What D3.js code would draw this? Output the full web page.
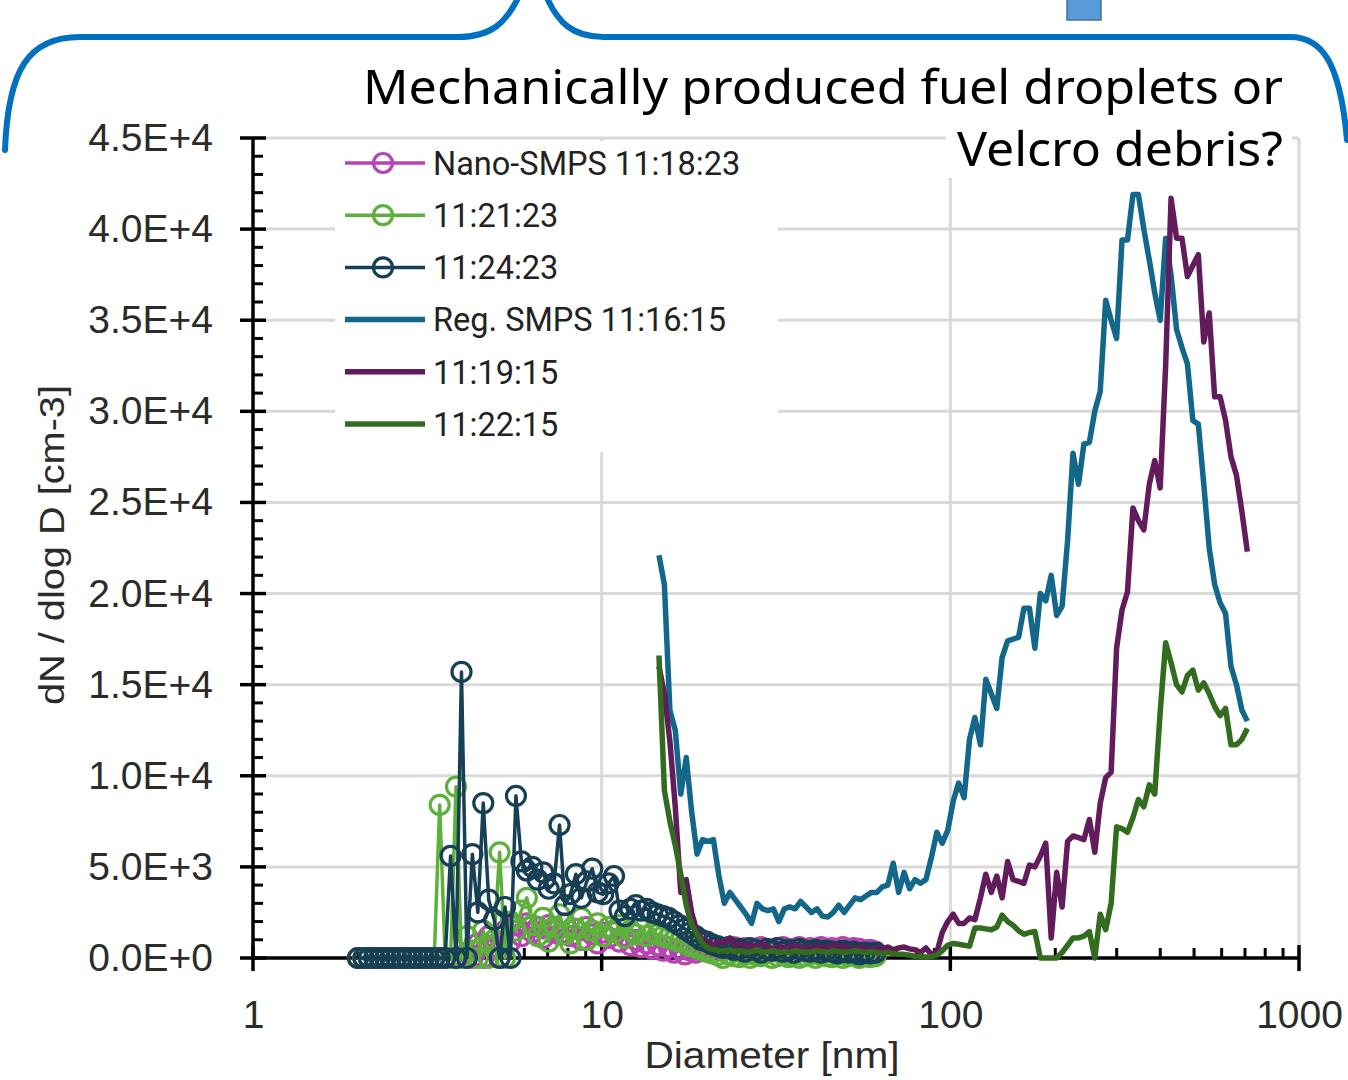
<!DOCTYPE html>
<html>
<head>
<meta charset="utf-8">
<script src="https://cdn.jsdelivr.net/npm/d3@7"></script>
<style>
  body { margin: 0; background: #fff; }
  svg { display: block; }
</style>
</head>
<body>
<svg id="chart" width="1348" height="1080"></svg>
<script>
// ---- data ----
// Nano-SMPS channel diameters (nm)
var nanoDiam = [
  2.000,2.073,2.149,2.228,2.310,2.394,2.482,2.573,2.667,2.765,
  2.866,2.971,3.080,3.193,3.310,3.431,3.557,3.687,3.822,3.962,
  4.107,4.258,4.414,4.575,4.743,4.916,5.097,5.283,5.477,5.677,
  5.885,6.101,6.325,6.556,6.796,7.045,7.303,7.571,7.848,8.136,
  8.434,8.743,9.063,9.395,9.739,10.10,10.47,10.85,11.25,11.66,
  12.09,12.53,12.99,13.46,13.96,14.47,15.00,15.55,16.12,16.71,
  17.32,17.95,18.61,19.29,20.00,20.73,21.49,22.28,23.10,23.94,
  24.82,25.73,26.67,27.65,28.66,29.71,30.80,31.93,33.10,34.31,
  35.57,36.87,38.22,39.62,41.07,42.58,44.14,45.75,47.43,49.16,
  50.97,52.83,54.77,56.77,58.85,61.01
];
var nano111823 = [
  0,0,0,0,0,0,0,0,0,0,
  0,0,0,0,0,0,0,0,0,0,
  300,0,800,0,1200,600,0,1500,900,1800,
  1200,1900,1400,1700,1100,1800,1500,1300,1900,1200,
  1600,1000,1700,1300,800,1400,1100,1500,900,1200,
  700,1000,600,800,500,700,400,600,300,500,
  200,400,300,450,350,500,550,400,500,600,
  450,550,500,400,600,450,400,550,600,450,
  500,600,400,550,450,600,500,550,400,600,
  450,550,500,400,450,350
];
var nano112123 = [
  0,0,0,0,0,0,0,0,0,0,
  0,0,0,0,0,8400,0,0,9400,0,
  1200,400,0,1500,0,1000,5800,0,2000,1500,
  2600,3300,1800,1200,2200,900,1700,2400,1300,800,
  1600,2200,1000,1500,1900,1200,1700,1400,1800,1100,
  1500,1300,1600,1200,1400,1300,1200,1100,1000,900,
  800,650,550,450,350,250,150,0,200,100,
  50,200,0,150,100,250,0,100,200,50,
  150,0,100,200,0,150,100,50,200,0,
  100,150,0,100,50,100
];
var nano112423 = [
  0,0,0,0,0,0,0,0,0,0,
  0,0,0,0,0,0,0,5600,0,15700,
  0,5700,2500,8500,3200,2100,0,2800,0,8900,
  5300,4800,5000,4300,4700,3800,4100,7300,2900,3500,
  4600,3300,4200,4900,3600,3500,4100,4500,2600,2300,
  2700,2900,2600,2700,2500,2400,2300,2200,2000,1800,
  1600,1400,1200,1000,900,750,650,550,600,450,
  500,350,550,450,300,500,400,550,350,450,
  300,500,400,350,450,300,400,350,250,400,
  300,350,200,300,250,300
];

// Regular SMPS channel diameters (nm)
var regDiam = [
  14.60,15.13,15.69,16.26,16.86,17.48,18.12,18.78,19.47,20.18,
  20.92,21.69,22.48,23.31,24.16,25.05,25.96,26.91,27.90,28.92,
  29.98,31.08,32.22,33.40,34.62,35.89,37.21,38.57,39.98,41.45,
  42.96,44.54,46.17,47.86,49.61,51.43,53.32,55.27,57.29,59.39,
  61.57,63.82,66.16,68.59,71.10,73.70,76.40,79.20,82.10,85.11,
  88.23,91.46,94.81,98.28,101.9,105.6,109.5,113.5,117.6,122.0,
  126.4,131.1,135.9,140.8,146.0,151.3,156.9,162.6,168.6,174.8,
  181.2,187.8,194.7,201.8,209.2,216.9,224.8,233.1,241.6,250.5,
  259.6,269.1,279.0,289.2,299.8,310.8,322.2,334.0,346.2,358.9,
  372.1,385.7,399.8,414.5,429.6,445.4,461.7,478.6,496.1,514.3,
  533.2,552.7,572.9,593.9,615.7,638.2,661.6,685.8,710.9
];
var reg111615 = [
  22100,20500,13600,12500,9000,11000,8000,5700,6500,6400,
  6500,4500,3000,3600,3200,2800,2400,1900,3000,2700,
  2600,2700,2000,2700,2800,2700,3100,2800,2500,2700,
  2300,2250,2500,2900,2500,2900,3300,3200,3400,3600,
  3600,3900,4000,5200,3600,4700,3800,4300,4100,4300,
  5500,6900,6300,7000,8600,9600,8800,12000,13200,11700,
  15300,14500,13700,16500,17400,17500,17600,19200,19200,17000,
  20000,19600,21000,18800,19300,22900,27700,26000,28200,28300,
  30000,31100,36100,35000,34000,39400,39400,41900,41900,40000,
  38300,36500,35000,39500,37500,34500,33500,32600,29500,29300,
  26000,22500,20500,19500,18900,16000,15000,13600,13000
];
var reg111915 = [
  16000,14500,11900,8300,3600,4300,2500,1400,1000,900,
  700,900,850,1100,700,800,650,700,600,750,
  600,500,650,550,600,700,550,600,500,650,
  600,550,700,600,650,500,550,600,500,450,
  550,500,600,450,550,600,500,450,300,550,
  200,300,1400,2000,2400,1900,1900,2200,2100,3300,
  4600,3600,4500,3300,5300,4300,4200,4100,5100,5000,
  5600,6300,1100,4700,2800,6400,6700,6600,6500,7600,
  5800,8500,9900,10200,17000,19100,20100,24700,24000,23500,
  26000,27300,25800,32500,41700,39500,39500,37400,38000,38600,
  33800,35400,30800,30800,29500,27500,26500,24500,22300
];
var reg112215 = [
  16600,9200,7500,6200,4600,2900,1800,1300,800,550,
  450,400,380,450,350,400,300,350,450,300,
  350,400,300,350,300,400,350,300,350,400,
  350,300,400,350,300,350,400,350,300,350,
  300,250,300,250,200,200,150,100,80,50,
  80,150,400,700,800,750,700,650,1650,1650,
  1600,1550,1700,2350,2000,1800,1500,1300,1400,1450,
  0,0,0,0,300,700,1100,1100,1200,1450,
  0,2400,1550,3000,7200,7100,6900,7700,8700,8300,
  9500,9000,13500,17300,16200,15000,14600,15500,15800,14700,
  15100,14500,13800,13300,13700,11700,11700,12000,12600
];

var seriesNames = ["Nano-SMPS 11:18:23", "11:21:23", "11:24:23",
                   "Reg. SMPS 11:16:15", "11:19:15", "11:22:15"];
var yTickValues = [0, 5000, 10000, 15000, 20000, 25000, 30000, 35000, 40000, 45000];
var yTickLabels = ["0.0E+0", "5.0E+3", "1.0E+4", "1.5E+4", "2.0E+4",
                   "2.5E+4", "3.0E+4", "3.5E+4", "4.0E+4", "4.5E+4"];
var xTickValues = [1, 10, 100, 1000];
var xTickLabels = ["1", "10", "100", "1000"];

(function () {
  var svg = d3.select('#chart');
  var plotL = 253, plotR = 1299, plotT = 138, plotB = 958;

  var x = d3.scaleLog().domain([1, 1000]).range([plotL, plotR]);
  var y = d3.scaleLinear().domain([0, 45000]).range([plotB, plotT]);

  var series = [
    {name: seriesNames[0], diam: nanoDiam, vals: nano111823, color: '#B942B5', marker: true},
    {name: seriesNames[1], diam: nanoDiam, vals: nano112123, color: '#5DB13B', marker: true},
    {name: seriesNames[2], diam: nanoDiam, vals: nano112423, color: '#173F56', marker: true},
    {name: seriesNames[3], diam: regDiam, vals: reg111615, color: '#12678A', marker: false},
    {name: seriesNames[4], diam: regDiam, vals: reg111915, color: '#621C5B', marker: false},
    {name: seriesNames[5], diam: regDiam, vals: reg112215, color: '#336C1F', marker: false}
  ];

  //gridlines
  var grid = svg.append('g').attr('stroke', '#d9d9d9').attr('stroke-width', 3);
  grid.selectAll('.hgrid')
    .data(yTickValues.slice(1)).enter()
    .append('line')
    .attr('x1', plotL).attr('x2', plotR)
    .attr('y1', function (d) { return y(d); })
    .attr('y2', function (d) { return y(d); });
  grid.selectAll('.vgrid')
    .data(xTickValues.slice(1)).enter()
    .append('line')
    .attr('x1', function (d) { return x(d); })
    .attr('x2', function (d) { return x(d); })
    .attr('y1', plotT).attr('y2', plotB);

  //y axis labels
  var yAxis = d3.axisLeft(y)
    .tickValues(yTickValues)
    .tickSize(0)
    .tickPadding(40)
    .tickFormat(function (d, i) { return yTickLabels[i]; });
  var gy = svg.append('g').attr('transform', 'translate(' + plotL + ',0)').call(yAxis);
  gy.select('.domain').remove();
  gy.selectAll('text')
    .attr('font-family', 'Liberation Sans, Arial, sans-serif')
    .attr('font-size', 39)
    .attr('fill', '#2b2b2b');

  //x axis labels
  var xAxis = d3.axisBottom(x)
    .tickValues(xTickValues)
    .tickSize(0)
    .tickPadding(42)
    .tickFormat(function (d, i) { return xTickLabels[i]; });
  var gx = svg.append('g').attr('transform', 'translate(0,' + plotB + ')').call(xAxis);
  gx.select('.domain').remove();
  gx.selectAll('text')
    .attr('font-family', 'Liberation Sans, Arial, sans-serif')
    .attr('font-size', 39)
    .attr('fill', '#2b2b2b');

  //axis lines and ticks
  var axes = svg.append('g').attr('stroke', '#000');
  var yMinor = d3.range(0, 45001, 1000).filter(function (v) { return v % 5000 !== 0; });
  axes.selectAll('.yminor').data(yMinor).enter().append('line')
    .attr('x1', plotL).attr('x2', plotL + 10)
    .attr('y1', function (d) { return y(d); }).attr('y2', function (d) { return y(d); })
    .attr('stroke-width', 3);
  axes.selectAll('.ymajor').data(yTickValues).enter().append('line')
    .attr('x1', plotL - 13).attr('x2', plotL + 13)
    .attr('y1', function (d) { return y(d); }).attr('y2', function (d) { return y(d); })
    .attr('stroke-width', 3.5);
  var xMinor = [];
  [1, 10, 100].forEach(function (dec) {
    for (var k = 2; k <= 9; k++) xMinor.push(k * dec);
  });
  axes.selectAll('.xminor').data(xMinor).enter().append('line')
    .attr('x1', function (d) { return x(d); }).attr('x2', function (d) { return x(d); })
    .attr('y1', plotB).attr('y2', plotB - 10)
    .attr('stroke-width', 3);
  axes.selectAll('.xmajor').data(xTickValues).enter().append('line')
    .attr('x1', function (d) { return x(d); }).attr('x2', function (d) { return x(d); })
    .attr('y1', plotB - 13).attr('y2', plotB + 13)
    .attr('stroke-width', 3.5);
  axes.append('line').attr('x1', plotL).attr('x2', plotL)
    .attr('y1', plotT).attr('y2', plotB).attr('stroke-width', 3.5);
  axes.append('line').attr('x1', plotL).attr('x2', plotR)
    .attr('y1', plotB).attr('y2', plotB).attr('stroke-width', 3.5);

  //axis titles
  svg.append('text')
    .attr('transform', 'translate(64,545) rotate(-90)')
    .attr('text-anchor', 'middle')
    .attr('font-family', 'Liberation Sans Narrow, Arial Narrow, Liberation Sans, sans-serif')
    .attr('font-size', 35)
    .attr('textLength', 320).attr('lengthAdjust', 'spacingAndGlyphs')
    .attr('fill', '#2b2b2b')
    .text('dN / dlog D [cm-3]');
  svg.append('text')
    .attr('x', 772).attr('y', 1068)
    .attr('text-anchor', 'middle')
    .attr('font-family', 'Liberation Sans, Arial, sans-serif')
    .attr('font-size', 36)
    .attr('textLength', 255).attr('lengthAdjust', 'spacingAndGlyphs')
    .attr('fill', '#2b2b2b')
    .text('Diameter [nm]');

  //series
  var line = d3.line()
    .x(function (d) { return x(d[0]); })
    .y(function (d) { return y(d[1]); });

  series.forEach(function (s) {
    var pts = s.diam.map(function (d, i) { return [d, s.vals[i]]; });
    var g = svg.append('g');
    g.append('path')
      .datum(pts)
      .attr('d', line)
      .attr('fill', 'none')
      .attr('stroke', s.color)
      .attr('stroke-width', s.marker ? 3.5 : 5.5)
      .attr('stroke-linejoin', 'round');
    if (s.marker) {
      g.selectAll('circle')
        .data(pts).enter()
        .append('circle')
        .attr('cx', function (d) { return x(d[0]); })
        .attr('cy', function (d) { return y(d[1]); })
        .attr('r', 9.5)
        .attr('fill', 'none')
        .attr('stroke', s.color)
        .attr('stroke-width', 3.2);
    }
  });

  //legend
  var legend = svg.append('g');
  legend.append('rect')
    .attr('x', 335).attr('y', 141).attr('width', 443).attr('height', 311)
    .attr('fill', '#fff');
  var rowY = d3.scaleLinear().domain([0, 5]).range([163, 424]);
  series.forEach(function (s, i) {
    var cy = rowY(i);
    legend.append('line')
      .attr('x1', 345).attr('x2', 425).attr('y1', cy).attr('y2', cy)
      .attr('stroke', s.color)
      .attr('stroke-width', s.marker ? 3.5 : 5.5);
    if (s.marker) {
      legend.append('circle')
        .attr('cx', 383).attr('cy', cy).attr('r', 9.5)
        .attr('fill', 'none').attr('stroke', s.color).attr('stroke-width', 3.2);
    }
    legend.append('text')
      .attr('x', 433).attr('y', cy).attr('dy', '0.36em')
      .attr('font-family', 'Roboto, sans-serif')
      .attr('font-size', 32.5)
      .attr('fill', '#222')
      .text(s.name);
  });

  //annotation
  svg.append('rect')
    .attr('x', 946).attr('y', 44).attr('width', 346).attr('height', 134)
    .attr('fill', '#fff');
  svg.append('text')
    .attr('x', 1283).attr('y', 104)
    .attr('text-anchor', 'end')
    .attr('font-family', 'Noto Sans, Open Sans, sans-serif')
    .attr('font-size', 47)
    .attr('textLength', 920).attr('lengthAdjust', 'spacingAndGlyphs')
    .attr('fill', '#000')
    .text('Mechanically produced fuel droplets or');
  svg.append('text')
    .attr('x', 1283).attr('y', 166)
    .attr('text-anchor', 'end')
    .attr('font-family', 'Noto Sans, Open Sans, sans-serif')
    .attr('font-size', 47)
    .attr('textLength', 326).attr('lengthAdjust', 'spacingAndGlyphs')
    .attr('fill', '#000')
    .text('Velcro debris?');

  //bracket
  var brace = svg.append('g').attr('fill', 'none').attr('stroke', '#0070C0')
    .attr('stroke-width', 6).attr('stroke-linecap', 'round');
  brace.append('path')
    .attr('d', 'M5,150 C8,70 28,37 80,37 L458,37 C492,37 506,22 518,-2');
  brace.append('path')
    .attr('d', 'M547,-2 C558,22 572,37 604,37 L1290,37 C1322,37 1340,62 1347,140');
  svg.append('rect')
    .attr('x', 1067).attr('y', -3).attr('width', 34).attr('height', 23)
    .attr('fill', '#5B9BD5').attr('stroke', '#41719C').attr('stroke-width', 1.5);
})();
</script>
</body>
</html>
